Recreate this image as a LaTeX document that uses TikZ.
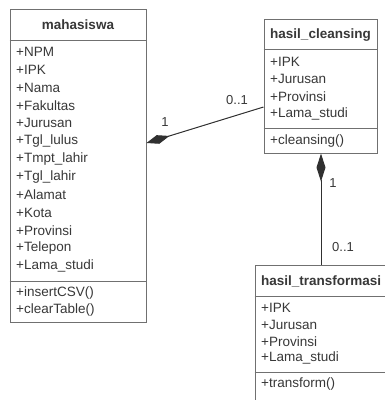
\documentclass[tikz,border=0pt]{standalone}
\usepackage{fontspec}
\setmainfont{Liberation Sans}
\usetikzlibrary{arrows.meta}
\definecolor{boxline}{HTML}{707070}
\definecolor{txt}{HTML}{383838}
\definecolor{conn}{HTML}{303030}
\tikzset{
  classbox/.style={draw=boxline, line width=1pt, fill=white, inner sep=0pt},
  sepline/.style={draw=boxline, line width=1pt},
  member/.style={anchor=west, inner sep=0pt, text=txt, font=\fontsize{13.5}{16}\selectfont},
  ctitle/.style={inner sep=0pt, text=txt, font=\fontsize{13.5}{16}\selectfont\bfseries},
  mult/.style={inner sep=0pt, text=txt, font=\fontsize{13}{15}\selectfont},
  compo/.style={draw=conn, line width=1pt, {Diamond[length=#1pt,width=9pt,fill=conn]}-},
}
\begin{document}
\begin{tikzpicture}[x=1pt,y=-1pt]
\clip (0,0) rectangle (385,400);
\fill[white] (0,0) rectangle (385,400);
% mahasiswa
\node[classbox, minimum width=136pt, minimum height=313pt] (mhs) at (78,165.5) {};
\node[ctitle] (mhsT) at (78,25) {mahasiswa};
\draw[sepline] (mhs.west |- 0,40) -- (mhs.east |- 0,40);
\draw[sepline] (mhs.west |- 0,281) -- (mhs.east |- 0,281);
\foreach \t [count=\i from 0] in {+NPM,+IPK,+Nama,+Fakultas,+Jurusan,+Tgl\_lulus,+Tmpt\_lahir,+Tgl\_lahir,+Alamat,+Kota,+Provinsi,+Telepon,+Lama\_studi}
  \node[member] (mhsA\i) at (16,52+17.83*\i) {\t};
\node[member] (mhsM0) at (16,293.5) {+insertCSV()};
\node[member] (mhsM1) at (16,310.5) {+clearTable()};
% hasil_cleansing
\node[classbox, minimum width=113pt, minimum height=134pt] (hc) at (320.5,86) {};
\node[ctitle] (hcT) at (320.5,35) {hasil\_cleansing};
\draw[sepline] (hc.west |- 0,49) -- (hc.east |- 0,49);
\draw[sepline] (hc.west |- 0,128) -- (hc.east |- 0,128);
\foreach \t [count=\i from 0] in {+IPK,+Jurusan,+Provinsi,+Lama\_studi}
  \node[member] (hcA\i) at (270,62+17.3*\i) {\t};
\node[member] (hcM0) at (270,141) {+cleansing()};
% hasil_transformasi
\node[classbox, minimum width=135pt, minimum height=136pt] (ht) at (322.5,333) {};
\node[ctitle, anchor=west] (htT) at (261,281) {hasil\_transformasi};
\draw[sepline] (ht.west |- 0,296) -- (ht.east |- 0,296);
\draw[sepline] (ht.west |- 0,372) -- (ht.east |- 0,372);
\foreach \t [count=\i from 0] in {+IPK,+Jurusan,+Provinsi,+Lama\_studi}
  \node[member] (htA\i) at (261,308+16.6*\i) {\t};
\node[member] (htM0) at (261,384) {+transform()};
% connectors
\draw[compo=24] ([yshift=22.5pt]mhs.east) -- ([yshift=-21pt]hc.west);
\draw[compo=28] ([xshift=0.5pt]hc.south) -- ([xshift=0.5pt]hc.south |- ht.north);
% multiplicities
\node[mult] (m1) at (165,122) {1};
\node[mult] (m2) at (237,100) {0..1};
\node[mult] (m3) at (333,183) {1};
\node[mult] (m4) at (343,247) {0..1};
\end{tikzpicture}
\end{document}
